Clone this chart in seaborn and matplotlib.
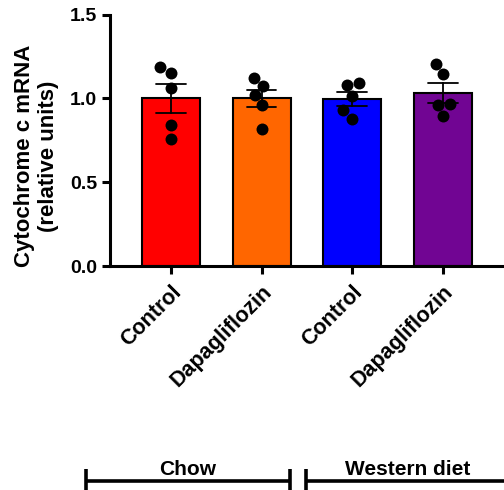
import matplotlib
matplotlib.use("Agg")
import matplotlib.pyplot as plt
import matplotlib.transforms as mtransforms
import numpy as np
import pandas as pd
import seaborn as sns

# Cytochrome c mRNA per animal (relative units), five animals per group
chow_control = [1.19, 1.15, 1.06, 0.84, 0.76]
chow_dapagliflozin = [1.125, 1.075, 1.02, 0.96, 0.82]
western_control = [1.09, 1.08, 1.015, 0.93, 0.88]
western_dapagliflozin = [1.205, 1.145, 0.97, 0.96, 0.895]

group_keys = ["Chow Control", "Chow Dapagliflozin", "Western Control", "Western Dapagliflozin"]
tick_labels = ["Control", "Dapagliflozin", "Control", "Dapagliflozin"]
bar_colors = ["#FF0000", "#FF6600", "#0000FF", "#710593"]
diets = ["Chow", "Western diet"]
yticks = [0.0, 0.5, 1.0, 1.5]

df = pd.DataFrame({
    "group": np.repeat(group_keys, 5),
    "value": chow_control + chow_dapagliflozin + western_control + western_dapagliflozin,
})

sns.set_style("ticks")
plt.rcParams["font.family"] = ["Liberation Sans", "DejaVu Sans"]
plt.rcParams["font.weight"] = "bold"
for key in ("text.color", "axes.labelcolor", "xtick.color", "ytick.color", "axes.edgecolor"):
    plt.rcParams[key] = "black"

fig = plt.figure(figsize=(5.04, 4.90), dpi=100)
ax = fig.add_axes([0.218, 0.457, 0.782, 0.513])

sns.barplot(
    data=df, x="group", y="value", order=group_keys, hue="group", hue_order=group_keys,
    palette=bar_colors, legend=False, width=0.64, errorbar="se", capsize=0.33,
    err_kws={"color": "black", "linewidth": 1.3}, edgecolor="black", linewidth=1.5,
    saturation=1, ax=ax,
)
sns.swarmplot(
    data=df, x="group", y="value", order=group_keys, color="black", size=8.6,
    linewidth=0, ax=ax, zorder=5,
)

ax.set_xlim(-0.673, 3.675)
ax.set_ylim(0, 1.5)
ax.set_yticks(yticks)
ax.set_yticklabels([f"{t:.1f}" for t in yticks], fontsize=14, fontweight="bold")
ax.set_xticks(range(len(tick_labels)))
ax.set_xticklabels(tick_labels, rotation=45, ha="right", rotation_mode="anchor",
                   fontsize=15.5, fontweight="bold")
ax.set_xlabel("")
ax.set_ylabel("Cytochrome c mRNA\n(relative units)", fontsize=16, fontweight="bold",
              labelpad=8)
ax.yaxis.label.set_y(0.438)

sns.despine(ax=ax)
for side in ("left", "bottom"):
    ax.spines[side].set_linewidth(2.2)
ax.tick_params(axis="both", length=6, width=2.2, pad=3)
ax.tick_params(axis="x", pad=5)

# Diet brackets under the treatment labels
trans = mtransforms.blended_transform_factory(ax.transData, fig.transFigure)
bracket_spans = [(-0.94, 1.31), (1.49, 3.73)]
for (x0, x1), diet in zip(bracket_spans, diets):
    ax.plot([x0, x1], [0.019, 0.019], color="black", lw=2.6, transform=trans,
            clip_on=False, solid_capstyle="butt")
    for xe in (x0, x1):
        ax.plot([xe, xe], [-0.01, 0.043], color="black", lw=2.6, transform=trans,
                clip_on=False, solid_capstyle="butt")
    ax.text((x0 + x1) / 2, 0.0306, diet, transform=trans, ha="center", va="baseline",
            fontsize=15, fontweight="bold")

fig.savefig("out.png", dpi=100)
